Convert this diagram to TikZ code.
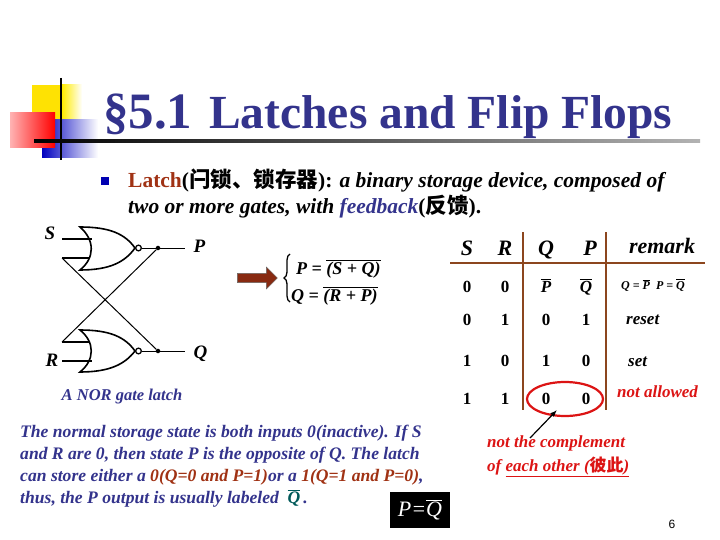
\documentclass[tikz,border=0pt]{standalone}
\usepackage{fontspec}
\setmainfont{Liberation Serif}
\newfontfamily\cjk{Noto Sans CJK SC}
\newfontfamily\sansf{Liberation Sans}
\usetikzlibrary{shapes.arrows,shapes.geometric,arrows.meta,decorations.pathreplacing}
\definecolor{tblue}{RGB}{51,51,140}
\definecolor{tbrown}{RGB}{160,50,20}
\definecolor{rline}{RGB}{140,70,30}
\definecolor{nred}{RGB}{220,20,20}
\newcommand{\ovl}[1]{$\overline{\mbox{#1}}$}
\tikzset{
  wire/.style={line width=1.6pt},
  thin wire/.style={line width=1pt},
  dotn/.style={circle,fill=black,inner sep=1.6pt},
  body/.style={anchor=base west,inner sep=0,font=\fontsize{17.6}{20}\selectfont\bfseries\itshape,text=tblue},
  cell/.style={anchor=base,inner sep=0,font=\fontsize{17}{20}\selectfont\bfseries},
  hdr/.style={anchor=base,inner sep=0,font=\fontsize{22}{24}\selectfont\bfseries\itshape},
  rem/.style={anchor=base west,inner sep=0,font=\fontsize{17}{20}\selectfont\bfseries\itshape},
  eqs/.style={anchor=base west,inner sep=0,font=\fontsize{18}{20}\selectfont\bfseries\itshape},
  tline/.style={rline,line width=1.8pt},
}
\begin{document}
\begin{tikzpicture}[x=1pt,y=-1pt]
\useasboundingbox (0,0) rectangle (720,540);
% decoration
\fill[yellow!85!orange] (32,85) rectangle (62,120);
\shade[left color=yellow!85!orange,right color=white] (62,85) rectangle (82,120);
\shade[left color=blue!75!black,right color=white] (42,120) rectangle (98,158);
\shade[left color=red!30,right color=red] (10,113) rectangle (55,148);
\draw[line width=2pt] (61,78) -- (61,160);
\shade[left color=black,right color=black!30] (34,140) rectangle (700,143);
\node[anchor=base west,inner sep=0,text=tblue,font=\fontsize{51}{54}\selectfont\bfseries] (sec) at (103,129) {§5.1};
\node[anchor=base west,inner sep=0,text=tblue,font=\fontsize{47.5}{50}\selectfont\bfseries] (title) at (209,129) {Latches and Flip Flops};
% bullet
\fill[blue!70!black] (101,177) rectangle (109,185);
\node[anchor=base west,inner sep=0,font=\fontsize{21.5}{24}\selectfont\bfseries] (l1) at (128,188) {\textcolor{tbrown}{Latch}({\cjk 闩锁、锁存器}): \textit{a binary storage device, composed of}};
\node[anchor=base west,inner sep=0,font=\fontsize{21.5}{24}\selectfont\bfseries\itshape] (l2) at (128,214) {two or more gates, with \textcolor{tblue}{feedback}\textup{({\cjk 反馈}).}};
% gates
\draw[wire] (80,227) .. controls (95,240) and (95,258) .. (80,270)
  .. controls (110,270) and (125,262) .. (135,248)
  .. controls (125,234) and (110,227) .. (80,227) -- cycle;
\draw[wire] (80,330) .. controls (95,342) and (95,360) .. (80,372)
  .. controls (110,372) and (125,364) .. (135,351)
  .. controls (125,337) and (110,330) .. (80,330) -- cycle;
\node[circle,draw,line width=1.3pt,inner sep=2pt,fill=white] (b1) at (138.5,248) {};
\node[circle,draw,line width=1.3pt,inner sep=2pt,fill=white] (b2) at (138.5,351) {};
\node[dotn] (dp) at (158,248) {};
\node[dotn] (dq) at (158,351) {};
\coordinate (s1) at (62,239); \coordinate (s1e) at (92,239);
\coordinate (s2) at (62,258); \coordinate (s2e) at (90,258);
\coordinate (r1) at (62,342); \coordinate (r1e) at (90,342);
\coordinate (r2) at (62,361); \coordinate (r2e) at (92,361);
\coordinate (pe) at (185,248); \coordinate (qe) at (185,351);
\draw[wire] (s1) -- (s1e); \draw[wire] (s2) -- (s2e);
\draw[wire] (r1) -- (r1e); \draw[wire] (r2) -- (r2e);
\draw[thin wire] (s2) -- (dq); \draw[thin wire] (r1) -- (dp);
\draw[thin wire] (b1) -- (pe); \draw[thin wire] (b2) -- (qe);
\node[anchor=base,font=\fontsize{19}{20}\selectfont\bfseries\itshape] (S) at (50,240) {S};
\node[anchor=base,font=\fontsize{19}{20}\selectfont\bfseries\itshape] (R) at (52,366) {R};
\node[anchor=base west,font=\fontsize{19}{20}\selectfont\bfseries\itshape] (P) at (190,252) {P};
\node[anchor=base west,font=\fontsize{19}{20}\selectfont\bfseries\itshape] (Q) at (190,358) {Q};
\node[anchor=base,inner sep=0,font=\fontsize{16.5}{18}\selectfont\bfseries\itshape,text=tblue] (cap) at (122,400) {A NOR gate latch};
% arrow and equations
\node[single arrow,fill=tbrown!85!black,draw=black!60,minimum height=40pt,minimum width=22pt,single arrow head extend=3pt,inner sep=2pt] (arr) at (255,278) {};
\draw[line width=1.3pt,decorate,decoration={brace,amplitude=6pt}] (290,302) -- (290,254);
\node[eqs] (e1) at (296,274) {P = \ovl{(S + Q)}};
\node[eqs] (e2) at (291,301) {Q = \ovl{(R + P)}};
% table
\draw[tline] (450,263) -- (705,263);
\draw[tline] (523,232) -- (523,410);
\draw[tline] (606,232) -- (606,410);
\node[hdr] (hS) at (467,255) {S};
\node[hdr] (hR) at (505,255) {R};
\node[hdr] (hQ) at (546,255) {Q};
\node[hdr] (hP) at (590,255) {P};
\node[hdr] (hrm) at (662,253) {remark};
\foreach \y/\a/\b/\c/\d [count=\i] in {292/0/0/{\itshape\ovl{P}}/{\itshape\ovl{Q}},325/0/1/0/1,366/1/0/1/0,404/1/1/0/0}{
  \node[cell] (a\i) at (467,\y) {\a};
  \node[cell] (b\i) at (505,\y) {\b};
  \node[cell] (c\i) at (546,\y) {\c};
  \node[cell] (d\i) at (586,\y) {\d};
}
\node[rem,font=\fontsize{12}{13}\selectfont\bfseries\itshape] (rm1) at (621,289) {Q = \ovl{P}\ \ P = \ovl{Q}};
\node[rem] (rm2) at (626,324) {reset};
\node[rem] (rm3) at (628,366) {set};
\node[rem,text=nred] (rm4) at (617,397) {not allowed};
\node[draw=nred,line width=2.2pt,ellipse,minimum width=76pt,minimum height=34pt] (ell) at (565,399) {};
\coordinate (atail) at (530,438);
\draw[line width=1.2pt,-{Latex[length=7pt]}] (atail) -- (557,410);
\node[anchor=base west,inner sep=0,text=nred,font=\fontsize{17}{19}\selectfont\bfseries\itshape] (nc1) at (487,447) {not the complement};
\node[anchor=base west,inner sep=0,text=nred,font=\fontsize{17}{19}\selectfont\bfseries\itshape] (nc2) at (487,471) {of \underline{each other ({\cjk 彼此})}};
% bottom text
\node[body] (t1) at (20,437) {The normal storage state is both inputs 0(inactive). If S};
\node[body] (t2) at (20,459) {and R are 0, then state P is the opposite of Q. The latch};
\node[body] (t3) at (20,481) {can store either a \textcolor{tbrown}{0(Q=0 and P=1)}or a \textcolor{tbrown}{1(Q=1 and P=0)},};
\node[body] (t4) at (20,503) {thus, the P output is usually labeled \ \textcolor{teal!70!black}{\ovl{Q}}\,.};
\node[fill=black,text=white,minimum width=60pt,minimum height=36pt,inner sep=0,font=\fontsize{22}{22}\selectfont\itshape] (pq) at (420,510) {P=\ovl{Q}};
\node[anchor=base,inner sep=0,font=\sansf\fontsize{12}{14}\selectfont] (pg) at (672,528) {6};
\end{tikzpicture}
\end{document}
